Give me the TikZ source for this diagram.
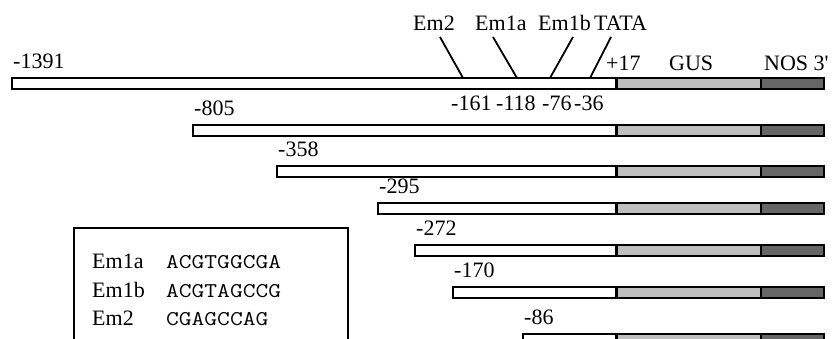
\documentclass[tikz,border=0pt]{standalone}
\usepackage{fontspec}
\setmainfont{Liberation Serif}
\tikzset{
  lbl/.style={anchor=base west, inner sep=0pt, font=\fontsize{22}{26}\selectfont},
  seqtxt/.style={anchor=base west, inner sep=0pt, font=\fontsize{21}{25}\selectfont\ttfamily},
  prom/.style={draw=black, line width=1.3pt, fill=white},
  gus/.style={draw=black, line width=1.3pt, fill=black!25},
  nos/.style={draw=black, line width=1.3pt, fill=black!60},
  sep/.style={line width=3pt},
  tickline/.style={line width=1.8pt},
  legend/.style={draw=black, line width=1.2pt},
}
\newcommand\cbar[4]{%
  \draw[prom] (#3,#2) rectangle (616,#2+11);
  \draw[gus] (616,#2) rectangle (761,#2+11);
  \draw[nos] (761,#2) rectangle (824,#2+11);
  \draw[sep] (616,#2) -- (616,#2+11);
  \node[lbl] (#1) at (#3+1,#2-10) {#4};
}
\newcommand\seqstr[1]{\scalebox{1.18}[1]{#1}}
\begin{document}
\begin{tikzpicture}[x=1pt,y=-1pt]
\clip (0,0) rectangle (836,338);
\fill[white] (0,0) rectangle (836,338);
% constructs
\cbar{b1391}{78}{12}{-1391}
\cbar{b805}{125}{193}{-805}
\cbar{b358}{166}{277}{-358}
\cbar{b295}{203}{378}{-295}
\cbar{b272}{245}{415}{-272}
\cbar{b170}{287}{453}{-170}
\cbar{b86}{334}{523}{-86}
% element labels
\node[lbl] (lem2) at (413,30) {Em2};
\node[lbl] (lem1a) at (475,30) {Em1a};
\node[lbl] (lem1b) at (538,30) {Em1b};
\node[lbl] (ltata) at (594,30) {TATA};
\node[lbl] (lp17) at (606,70) {+17};
\node[lbl] (lgus) at (669,70) {GUS};
\node[lbl] (lnos) at (764,70) {NOS 3\textquotesingle};
% positions
\node[lbl] (p161) at (451,110) {-161};
\node[lbl] (p118) at (496,110) {-118};
\node[lbl] (p76) at (542,110) {-76};
\node[lbl] (p36) at (574,110) {-36};
% connector lines
\coordinate (t2) at (440,37);  \coordinate (s2) at (463,78);
\coordinate (t1a) at (493,37); \coordinate (s1a) at (517,78);
\coordinate (t1b) at (573,37); \coordinate (s1b) at (550,78);
\coordinate (tt) at (611,37);  \coordinate (st) at (590,78);
\draw[tickline] (t2) -- (s2);
\draw[tickline] (t1a) -- (s1a);
\draw[tickline] (t1b) -- (s1b);
\draw[tickline] (tt) -- (st);
% legend box
\draw[legend] (74,228) rectangle (348,360);
\node[lbl] (k1a) at (92,268) {Em1a};
\node[seqtxt] (s1aq) at (166,268) {\seqstr{ACGTGGCGA}};
\node[lbl] (k1b) at (92,297) {Em1b};
\node[seqtxt] (s1bq) at (166,297) {\seqstr{ACGTAGCCG}};
\node[lbl] (k2) at (92,325) {Em2};
\node[seqtxt] (s2q) at (166,325) {\seqstr{CGAGCCAG}};
\end{tikzpicture}
\end{document}
